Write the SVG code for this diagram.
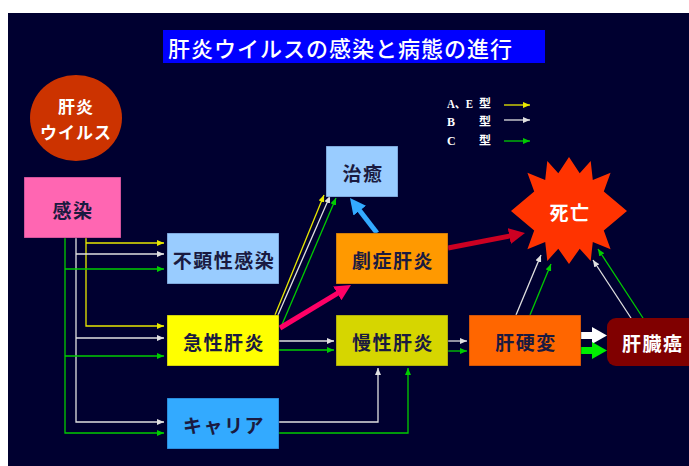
<svg xmlns="http://www.w3.org/2000/svg" width="689" height="466" viewBox="0 0 689 466">
<style>
.bg{fill:#000030}
.box{stroke:#000033;stroke-opacity:0.35;stroke-width:1}
.lbl{font-family:"Noto Sans CJK JP","Noto Sans",sans-serif;font-weight:bold;font-size:19px;fill:#1A1A40;text-anchor:middle;dominant-baseline:central;letter-spacing:1.5px}
.wlbl{font-family:"Noto Sans CJK JP","Noto Sans",sans-serif;font-weight:bold;font-size:19px;fill:#FFFFFF;dominant-baseline:central;letter-spacing:1.5px}
.vlbl{font-family:"Noto Sans CJK JP","Noto Sans",sans-serif;font-weight:bold;font-size:17px;fill:#FFFFFF;dominant-baseline:central;text-anchor:middle;letter-spacing:1px}
.leg{font-family:"Liberation Serif","Noto Sans CJK JP",serif;font-weight:bold;font-size:12px;fill:#FFFFFF;dominant-baseline:central}
.y{fill:none;stroke:#E8E800;stroke-width:1.3;marker-end:url(#ay)}
.w{fill:none;stroke:#E0E0E0;stroke-width:1.3;marker-end:url(#aw)}
.g{fill:none;stroke:#00CC00;stroke-width:1.3;marker-end:url(#ag)}
</style>
<defs>
<marker id="ay" markerUnits="userSpaceOnUse" markerWidth="8" markerHeight="6" refX="7" refY="3" orient="auto"><path d="M0,0 L7,3 L0,6 z" fill="#E8E800"/></marker>
<marker id="aw" markerUnits="userSpaceOnUse" markerWidth="8" markerHeight="6" refX="7" refY="3" orient="auto"><path d="M0,0 L7,3 L0,6 z" fill="#E0E0E0"/></marker>
<marker id="ag" markerUnits="userSpaceOnUse" markerWidth="8" markerHeight="6" refX="7" refY="3" orient="auto"><path d="M0,0 L7,3 L0,6 z" fill="#00CC00"/></marker>
<marker id="ap" markerUnits="userSpaceOnUse" markerWidth="16" markerHeight="16" refX="4" refY="8" orient="auto"><path d="M0,0 L16,8 L0,16 z" fill="#FF0066"/></marker>
<marker id="ab" markerUnits="userSpaceOnUse" markerWidth="16" markerHeight="16" refX="4" refY="8" orient="auto"><path d="M0,0 L16,8 L0,16 z" fill="#33AAFF"/></marker>
<marker id="ar" markerUnits="userSpaceOnUse" markerWidth="16" markerHeight="16" refX="4" refY="8" orient="auto"><path d="M0,0 L16,8 L0,16 z" fill="#CC0022"/></marker>
</defs>
<rect x="0" y="0" width="689" height="466" fill="#FFFFFF"/>
<rect class="bg" x="8" y="13" width="681" height="453"/>

<g id="title">
<rect x="163" y="30" width="382" height="33" fill="#0000FF"/>
<text x="168" y="47" font-family="'Noto Sans CJK JP','Noto Sans',sans-serif" font-size="22" font-weight="500" fill="#FFFFFF" dominant-baseline="central" letter-spacing="1">肝炎ウイルスの感染と病態の進行</text>
</g>

<g id="legend">
<text class="leg" x="447" y="104" textLength="26" lengthAdjust="spacingAndGlyphs">A、E</text>
<text class="leg" x="479" y="104" font-size="13">型</text>
<text class="leg" x="447" y="122">B</text>
<text class="leg" x="479" y="122" font-size="13">型</text>
<text class="leg" x="447" y="141">C</text>
<text class="leg" x="479" y="141" font-size="13">型</text>
<path class="y" d="M504,105 H530"/>
<path class="w" d="M504,120 H530"/>
<path class="g" d="M504,141 H530"/>
</g>

<g id="connectors">
<path class="y" d="M86,238 V326 H164"/>
<path class="y" d="M86,243 H164"/>
<path class="w" d="M76,238 V422 H164"/>
<path class="w" d="M76,254 H164"/>
<path class="w" d="M76,338 H164"/>
<path class="g" d="M65,238 V433 H164"/>
<path class="g" d="M65,269 H164"/>
<path class="g" d="M65,356 H164"/>
<path class="y" d="M275,315 L324,195"/>
<path class="w" d="M278,315 L330,196"/>
<path class="g" d="M281,327 L336,198"/>
<path class="w" d="M279,341 H334"/>
<path class="g" d="M279,350 H334"/>
<path class="w" d="M279,422 H378 V368"/>
<path class="g" d="M279,433 H408 V368"/>
<path class="w" d="M448,341 H467"/>
<path class="g" d="M448,351 H467"/>
<path class="w" d="M516,315 L541,255"/>
<path class="g" d="M530,315 L551,264"/>
<path class="w" d="M631,318 L593,260"/>
<path class="g" d="M643,318 L598,249"/>
<line x1="280" y1="328" x2="340.7" y2="291.3" stroke="#FF0066" stroke-width="5" marker-end="url(#ap)"/>
<line x1="377" y1="233" x2="357.3" y2="207.5" stroke="#33AAFF" stroke-width="5" marker-end="url(#ab)"/>
<line x1="448" y1="248" x2="513.2" y2="235.3" stroke="#CC0022" stroke-width="5" marker-end="url(#ar)"/>
<polygon points="581,332 592,332 592,327 607,335.5 592,344 592,339 581,339" fill="#FFFFFF"/>
<polygon points="581,347 592,347 592,342 607,350.5 592,359 592,354 581,354" fill="#00EE00"/>
</g>

<g id="virus">
<ellipse cx="76" cy="118" rx="46" ry="43" fill="#CC3300"/>
<text class="vlbl" x="76" y="105">肝炎</text>
<text class="vlbl" x="76" y="131">ウイルス</text>
</g>

<g id="kansen">
<rect class="box" x="24" y="177" width="97" height="61" fill="#FF66B2"/>
<text class="lbl" x="73" y="209">感染</text>
</g>

<g id="fukensei">
<rect class="box" x="167" y="233" width="112" height="51" fill="#99CCFF"/>
<text class="lbl" x="224" y="259">不顕性感染</text>
</g>

<g id="kyusei">
<rect class="box" x="167" y="315" width="112" height="51" fill="#FFFF00"/>
<text class="lbl" x="224" y="341">急性肝炎</text>
</g>

<g id="carrier">
<rect class="box" x="167" y="398" width="112" height="51" fill="#33AAFF"/>
<text class="lbl" x="224" y="424">キャリア</text>
</g>

<g id="chiyu">
<rect class="box" x="326" y="146" width="72" height="51" fill="#99CCFF"/>
<text class="lbl" x="363" y="172">治癒</text>
</g>

<g id="gekisho">
<rect class="box" x="336" y="233" width="112" height="51" fill="#FF9900"/>
<text class="lbl" x="393" y="259">劇症肝炎</text>
</g>

<g id="mansei">
<rect class="box" x="336" y="315" width="112" height="51" fill="#D6D600"/>
<text class="lbl" x="393" y="341">慢性肝炎</text>
</g>

<g id="kankohen">
<rect class="box" x="469" y="315" width="112" height="51" fill="#FF6600"/>
<text class="lbl" x="526" y="341">肝硬変</text>
</g>

<g id="kanzogan">
<rect x="607" y="318" width="100" height="48" rx="9" ry="9" fill="#800000"/>
<text class="wlbl" x="622" y="342">肝臓癌</text>
</g>

<g id="shibo">
<polygon fill="#FF3300" points="569,157 579.7,173.3 590.7,161.1 592.8,180.1 610.6,172.8 603.8,191.4 627,211 603.8,230.6 610.6,249.2 592.8,241.9 590.7,260.9 579.7,248.7 569,264 558.3,248.7 547.3,260.9 545.2,241.9 527.4,249.2 534.2,230.6 511,211 534.2,191.4 527.4,172.8 545.2,180.1 547.3,161.1 558.3,173.3"/>
<text class="wlbl" x="570" y="211" text-anchor="middle">死亡</text>
</g>
</svg>
